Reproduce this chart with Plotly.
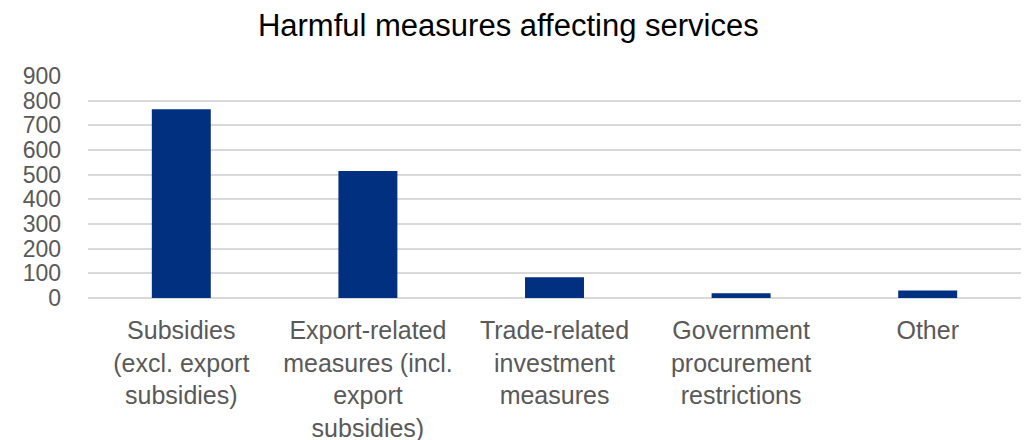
import plotly.graph_objects as go

categories = [
    "Subsidies<br>(excl. export<br>subsidies)",
    "Export-related<br>measures (incl.<br>export<br>subsidies)",
    "Trade-related<br>investment<br>measures",
    "Government<br>procurement<br>restrictions",
    "Other",
]
values = [765, 515, 84, 19, 30]
y_ticks = [0, 100, 200, 300, 400, 500, 600, 700, 800, 900]

fig = go.Figure(
    go.Bar(
        x=categories,
        y=values,
        marker=dict(color="#00307f", line=dict(width=0)),
    )
)

fig.update_layout(
    width=1030,
    height=440,
    margin=dict(l=88, r=9, t=76, b=142, autoexpand=False),
    paper_bgcolor="white",
    plot_bgcolor="white",
    bargap=0.684,
    showlegend=False,
    title=dict(
        text="Harmful measures affecting services",
        x=0.4935,
        xanchor="center",
        y=0.943,
        yanchor="middle",
        font=dict(family="Liberation Sans, Arial", size=31, color="#000000"),
    ),
    font=dict(family="Liberation Sans, Arial", color="#595959"),
)

fig.update_xaxes(
    showgrid=False,
    showline=False,
    ticks="",
    automargin=False,
    tickfont=dict(size=25, color="#595959"),
    ticklabelstandoff=15,
)
fig.update_yaxes(
    range=[0, 900],
    tickvals=y_ticks,
    showgrid=True,
    gridcolor="#d9d9d9",
    gridwidth=2,
    zeroline=True,
    zerolinecolor="#d9d9d9",
    zerolinewidth=2,
    showline=False,
    ticks="",
    automargin=False,
    tickfont=dict(size=23, color="#595959"),
    ticklabelstandoff=26,
)

fig.write_html(
    "out.html",
    config={"displayModeBar": False},
    post_script="document.body.style.margin='0';document.body.style.overflow='hidden';",
)
